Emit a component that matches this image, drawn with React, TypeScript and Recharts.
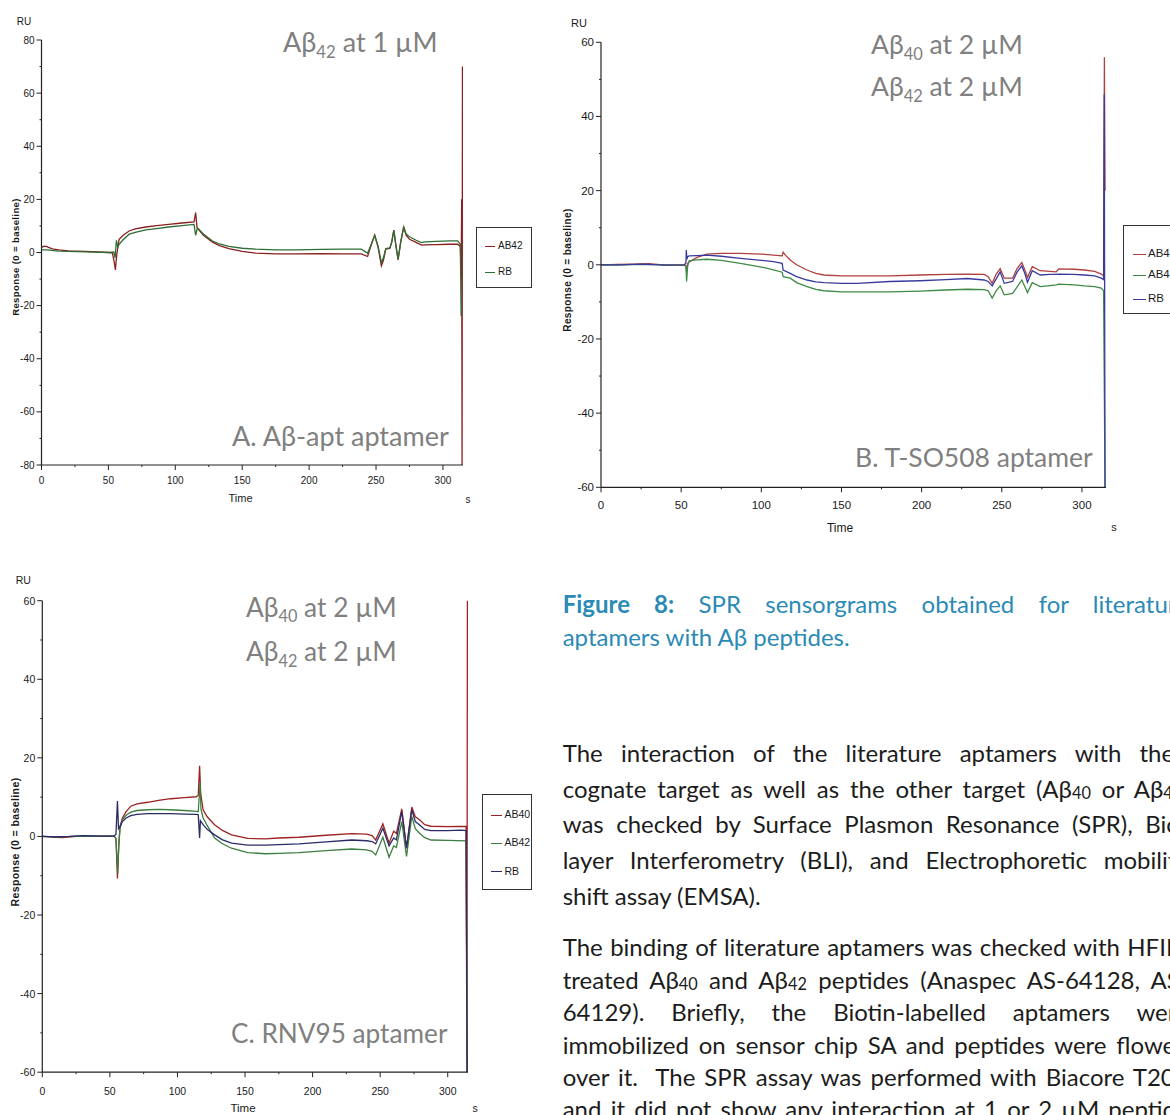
import { Legend, Line, LineChart, XAxis, YAxis } from "recharts";

type Pt = [number, number];

// time ticks (major every 50 s, minor every 25 s)
const TIME_TICKS = [0, 25, 50, 75, 100, 125, 150, 175, 200, 225, 250, 275, 300];
const A_Y_TICKS = [-80, -70, -60, -50, -40, -30, -20, -10, 0, 10, 20, 30, 40, 50, 60, 70, 80];
const BC_Y_TICKS = [-60, -50, -40, -30, -20, -10, 0, 10, 20, 30, 40, 50, 60];

// A. Aβ-apt aptamer, [time s, RU]
const A_AB42: Pt[] = [
  [0, 1.9], [2, 2.4], [4, 2.2], [8, 1.4], [13, 1], [20, 0.6], [33, 0.4], [42, 0.2], [50, 0], [53, -0.2],
  [54.5, -4], [55.2, -6.6], [56.2, -1], [58, 5], [61, 6.5], [65.5, 8.1], [70, 8.9], [78, 9.6], [86, 10.1],
  [95, 10.6], [105, 11.1], [114, 11.5], [115.2, 15], [116.2, 9.5], [117.6, 8.5], [121, 6.5], [127.5, 4],
  [133, 2.6], [140, 1.5], [150, 0.4], [160, -0.25], [175, -0.5], [190, -0.5], [210, -0.4], [225, -0.5],
  [239, -0.5], [243.7, -1.5], [246.5, 3], [249, 6.5], [251.5, 2], [254, -5], [255.5, -3], [257.3, 1.25],
  [260.3, 1.5], [261.8, 4], [263.3, 8.4], [265, 2], [266.5, -2.75], [268.5, 4], [270.7, 9.6], [272.5, 6.5],
  [275, 5], [280, 3.8], [284, 2.75], [286.4, 2.9], [295, 3], [305, 3.1], [311, 3.1], [313, 2.3],
  [313.6, -10], [314, 20], [314.3, -80], [314.6, 70],
];
const A_RB: Pt[] = [
  [0, 1], [4, 1], [13, 0.5], [33, 0.25], [50, 0], [54, 0.2], [55, -2], [56, 4.6], [57, 2], [58, 3.1],
  [61, 4.8], [65.5, 6.9], [70, 7.6], [78, 8.5], [86, 9], [95, 9.6], [105, 10.1], [114, 10.6], [115.2, 6.5],
  [116.5, 9.2], [117.6, 8.8], [121, 7], [127.5, 4.4], [133, 3.2], [140, 2.3], [150, 1.6], [160, 1.25],
  [175, 1], [190, 1], [210, 1.2], [225, 1.25], [239, 1.25], [243.7, -0.25], [246.5, 3.2], [249, 6.5],
  [251.5, 2.5], [254, -3.75], [255.5, -2], [257.3, 1.5], [260.3, 1.75], [261.8, 4], [263.3, 8.4], [265, 2.2],
  [266.5, -2.5], [268.5, 4.2], [270.7, 9.6], [272.5, 7], [275, 5.9], [280, 4.6], [284, 3.75], [286.4, 4],
  [295, 4.2], [305, 4.4], [311, 4.4], [313, 3.1], [313.6, -24],
];

// B. T-SO508 aptamer
const B_AB40: Pt[] = [
  [0, 0], [10, 0.1], [20, 0.2], [30, 0.3], [40, -0.1], [52, 0], [53, -0.3], [53.4, -2], [54, 0.3], [55, 0.8],
  [60, 2], [66, 2.9], [75, 3.1], [87, 3.1], [100, 2.9], [107.6, 2.6], [113, 2.4], [113.6, 3.4], [115, 2.6],
  [118, 1.3], [122, 0], [128.5, -1.4], [134, -2.3], [139, -2.75], [150, -3], [160, -3], [180, -3],
  [199, -2.75], [215, -2.6], [228.5, -2.5], [239, -2.6], [241.5, -3.2], [244, -5], [246.5, -2.5], [249, -1],
  [251.5, -3.6], [256.7, -3.6], [259.5, -1], [262.5, 0.6], [264.5, -1.5], [266, -3.4], [269, -0.5],
  [274, -1.6], [280, -1.8], [284, -1.9], [285.5, -1.1], [295, -1.2], [301.5, -1.4], [308, -1.8], [312, -2.5],
  [313.5, -3], [314, 56], [314.4, 20],
];
const B_AB42: Pt[] = [
  [0, 0], [10, -0.1], [25, 0.1], [40, 0], [52, 0], [53, -0.5], [53.4, -4.5], [54, -0.5], [55, 1.1],
  [60, 1.35], [66, 1.5], [75, 1.2], [87, 0.4], [100, -0.6], [107.6, -1.4], [113, -2], [113.6, -3.2],
  [118, -3.6], [122, -4.8], [128.5, -5.9], [134, -6.6], [139, -7], [150, -7.3], [160, -7.3], [180, -7.3],
  [199, -7.1], [215, -6.8], [228.5, -6.6], [239, -6.7], [241.5, -7], [244, -9], [246.5, -7], [249, -5.7],
  [251.5, -8.1], [256.7, -7.7], [259.5, -6], [262.5, -4.1], [264.5, -6], [266, -7.5], [269, -4.8],
  [274, -5.9], [280, -5.6], [284, -5.4], [285.5, -5.2], [295, -5.4], [301.5, -5.7], [308, -5.9],
  [312, -6.3], [313.5, -7], [314.4, -60],
];
const B_RB: Pt[] = [
  [0, 0], [10, 0], [25, 0.2], [40, -0.1], [52, 0], [53, 0.5], [53.2, 4], [53.6, 1.5], [54, 2.2], [55, 2.4],
  [60, 2.5], [66, 2.6], [75, 2.3], [87, 1.75], [100, 1.2], [107.6, 0.85], [113, 0.4], [113.6, -1.4],
  [118, -2.3], [122, -3.2], [128.5, -4.1], [134, -4.6], [139, -4.8], [150, -5], [160, -5], [180, -4.5],
  [199, -4.3], [215, -4], [228.5, -3.7], [239, -4.1], [241.5, -4.5], [244, -5.7], [246.5, -3.8], [249, -1.9],
  [251.5, -5], [256.7, -4.5], [259.5, -2], [262.5, -0.3], [264.5, -2.5], [266, -4.7], [269, -1.6],
  [274, -2.75], [280, -2.6], [284, -2.6], [285.5, -2.5], [295, -2.6], [301.5, -2.75], [308, -3],
  [312, -3.6], [313.5, -4], [313.9, 46], [314.4, -60],
];

// C. RNV95 aptamer
const C_AB40: Pt[] = [
  [0, 0], [10, -0.2], [15, -0.3], [25, 0], [35, 0.1], [45, 0.1], [53, 0.1], [54.5, -0.5], [55.6, -10.7],
  [56.5, -3], [57.5, 2.5], [59.3, 4.7], [62, 6.3], [65.5, 7.7], [70, 8.3], [78, 8.7], [86, 9.2], [95, 9.6],
  [105, 9.9], [114, 10.1], [115.4, 10.5], [116.4, 18], [117.2, 11], [119, 6.8], [122, 5], [127.5, 3],
  [133, 1.6], [140, 0.4], [152, -0.5], [165, -0.6], [175, -0.4], [190, -0.2], [210, 0.3], [229, 0.7],
  [240, 0.6], [244, 0.2], [246.7, -0.9], [252, 3.2], [256.6, -1.7], [260, 1.3], [262, 0.8], [266, 7],
  [269.5, -3], [273.4, 7.5], [276, 5], [279, 4.3], [283, 3], [287.6, 2.6], [300, 2.5], [313.6, 2.6],
  [314.2, -60], [314.6, 75],
];
const C_AB42: Pt[] = [
  [0, 0], [10, -0.1], [25, 0], [45, 0], [53, 0.1], [54.5, -0.5], [55.8, -9.4], [56.6, -2], [57.5, 2],
  [59.3, 4.3], [62, 5.4], [65.5, 6.2], [70, 6.6], [78, 6.8], [86, 6.9], [95, 6.8], [105, 6.6], [114, 6.4],
  [115.4, 6.3], [116.8, 13.7], [117.4, 7], [119, 4.7], [122, 2.8], [127.5, -0.4], [133, -1.8], [140, -3],
  [152, -4.1], [165, -4.4], [175, -4.3], [190, -4.1], [210, -3.6], [229, -3.2], [240, -3.4], [244, -3.8],
  [246.7, -4.7], [252, -0.2], [256.6, -5.3], [260, -2.4], [262, -2.8], [266, 3.8], [269.5, -5.1],
  [273.4, 5.1], [276, 2], [279, 0.9], [283, -0.3], [287.6, -0.9], [300, -1], [313.6, -1.1], [314.4, -60],
];
const C_RB: Pt[] = [
  [0, 0], [10, -0.1], [20, 0], [30, 0.2], [45, 0.1], [53, 0.1], [54.5, 0.5], [55.6, 9], [56.4, 2],
  [57.5, 2.5], [59.3, 3.8], [62, 4.7], [65.5, 5.3], [70, 5.6], [78, 5.8], [86, 5.8], [95, 5.8], [105, 5.7],
  [114, 5.6], [115.4, 5.5], [116.4, -0.4], [117, 4], [119, 3], [122, 1.8], [127.5, 0.4], [133, -0.8],
  [140, -1.7], [152, -2.2], [165, -2.2], [175, -2.1], [190, -1.9], [210, -1.4], [229, -0.9], [240, -1.1],
  [244, -1.3], [246.7, -1.9], [252, 2.1], [256.6, -2.4], [260, -0.4], [262, -0.9], [266, 6.4],
  [269.5, -3], [273.4, 6.8], [276, 3.8], [279, 3], [283, 1.8], [287.6, 1.5], [300, 1.5], [310, 1.6],
  [313.6, 1.5], [314.4, -60],
];

const AXIS = "#222";
const INK = "#1a1a1a";
const GREY = "#808080";
const NARROW = "'Liberation Sans Narrow', 'Liberation Sans', Arial, sans-serif";
const SANS = "'Liberation Sans', Arial, sans-serif";
const BODY = "Lato, 'Open Sans', sans-serif";

type Series = { name: string; color: string; data: Pt[] };

type LegendCfg = { left: number; top: number; width: number; height: number; rows: number[]; line: [number, number]; text: number };

type PanelCfg = {
  left: number;
  top: number;
  width: number;
  height: number;
  plot: { left: number; right: number; top: number; bottom: number };
  yDomain: [number, number];
  yTicks: number[];
  font: number;
  xGap: number;
  series: Series[];
  legend: LegendCfg;
};

function XTick(props: any) {
  const { x, y, payload, font, gap } = props;
  const v = payload.value as number;
  const major = v % 50 === 0;
  return (
    <g>
      <line x1={x} x2={x} y1={y} y2={y + (major ? 5 : 2)} stroke={AXIS} strokeWidth={1} />
      {major && (
        <text x={x} y={y + gap} textAnchor="middle" dominantBaseline="central" fontSize={font} fill={INK} fontFamily={NARROW}>
          {v}
        </text>
      )}
    </g>
  );
}

function YTick(props: any) {
  const { x, y, payload, font } = props;
  const v = payload.value as number;
  const major = v % 20 === 0;
  return (
    <g>
      <line x1={x - (major ? 5 : 2)} x2={x} y1={y} y2={y} stroke={AXIS} strokeWidth={1} />
      {major && (
        <text x={x - 7} y={y} textAnchor="end" dominantBaseline="central" fontSize={font} fill={INK} fontFamily={NARROW}>
          {v}
        </text>
      )}
    </g>
  );
}

function LegendBox({ payload, cfg, font, series }: { payload?: any[]; cfg: LegendCfg; font: number; series: Series[] }) {
  // keep the order and colours of the series list
  const items = series.map((s) => {
    const hit = (payload ?? []).find((p) => p.value === s.name);
    return { name: s.name, color: hit?.color ?? s.color };
  });
  return (
    <div
      style={{
        position: "relative",
        width: cfg.width,
        height: cfg.height,
        boxSizing: "border-box",
        border: "1px solid #333",
        background: "#fff",
      }}
    >
      {items.map((p, i) => (
        <div key={p.name} style={{ position: "absolute", left: 0, top: cfg.rows[i], width: "100%", height: 0 }}>
          <div
            style={{
              position: "absolute",
              left: cfg.line[0],
              width: cfg.line[1] - cfg.line[0],
              top: 0,
              borderTop: `1.3px solid ${p.color}`,
            }}
          />
          <div
            style={{
              position: "absolute",
              left: cfg.text,
              top: -font * 0.6,
              fontSize: font,
              lineHeight: `${font * 1.2}px`,
              fontFamily: NARROW,
              color: INK,
              whiteSpace: "nowrap",
            }}
          >
            {p.name}
          </div>
        </div>
      ))}
    </div>
  );
}

function Panel({ cfg }: { cfg: PanelCfg }) {
  const { plot, legend } = cfg;
  return (
    <div style={{ position: "absolute", left: cfg.left, top: cfg.top }}>
      <LineChart
        width={cfg.width}
        height={cfg.height}
        margin={{ top: plot.top, right: cfg.width - plot.right, bottom: 0, left: 0 }}
      >
        <XAxis
          dataKey="t"
          type="number"
          domain={[0, 315]}
          allowDataOverflow
          ticks={TIME_TICKS}
          interval={0}
          height={cfg.height - plot.bottom}
          tickSize={0}
          tickMargin={0}
          tickLine={false}
          axisLine={{ stroke: AXIS, strokeWidth: 1.2 }}
          tick={(p: any) => <XTick {...p} font={cfg.font} gap={cfg.xGap} />}
        />
        <YAxis
          type="number"
          domain={cfg.yDomain}
          allowDataOverflow
          ticks={cfg.yTicks}
          interval={0}
          width={plot.left}
          tickSize={0}
          tickMargin={0}
          tickLine={false}
          axisLine={{ stroke: AXIS, strokeWidth: 1.2 }}
          tick={(p: any) => <YTick {...p} font={cfg.font} />}
        />
        {cfg.series.map((s) => (
          <Line
            key={s.name}
            name={s.name}
            data={s.data.map(([t, v]) => ({ t, v }))}
            dataKey="v"
            type="linear"
            stroke={s.color}
            strokeWidth={1.3}
            dot={false}
            activeDot={false}
            isAnimationActive={false}
          />
        ))}
        <Legend
          layout="vertical"
          align="center"
          verticalAlign="middle"
          wrapperStyle={{ left: legend.left, top: legend.top, width: legend.width, height: legend.height }}
          content={(p: any) => <LegendBox payload={p.payload} cfg={legend} font={cfg.font} series={cfg.series} />}
        />
      </LineChart>
    </div>
  );
}

const PANEL_A: PanelCfg = {
  left: 0,
  top: 0,
  width: 540,
  height: 520,
  plot: { left: 41.5, right: 463, top: 40, bottom: 465 },
  yDomain: [-80, 80],
  yTicks: A_Y_TICKS,
  font: 10,
  xGap: 15,
  series: [
    { name: "AB42", color: "#8a1f1f", data: A_AB42 },
    { name: "RB", color: "#2f6e34", data: A_RB },
  ],
  legend: { left: 476, top: 226.5, width: 56, height: 61, rows: [18, 44], line: [8, 18], text: 21 },
};

const PANEL_B: PanelCfg = {
  left: 540,
  top: 0,
  width: 630,
  height: 545,
  plot: { left: 61, right: 566, top: 42.3, bottom: 487.3 },
  yDomain: [-60, 60],
  yTicks: BC_Y_TICKS,
  font: 11.5,
  xGap: 17.7,
  series: [
    { name: "AB40", color: "#b0403e", data: B_AB40 },
    { name: "AB42", color: "#3f8a45", data: B_AB42 },
    { name: "RB", color: "#3a3a9e", data: B_RB },
  ],
  legend: { left: 583, top: 225, width: 70, height: 89, rows: [27.5, 49, 73.3], line: [9, 22], text: 24 },
};

const PANEL_C: PanelCfg = {
  left: 0,
  top: 560,
  width: 540,
  height: 555,
  plot: { left: 42.3, right: 468, top: 40.7, bottom: 512.2 },
  yDomain: [-60, 60],
  yTicks: BC_Y_TICKS,
  font: 10.5,
  xGap: 19,
  series: [
    { name: "AB40", color: "#9e2222", data: C_AB40 },
    { name: "AB42", color: "#3c7e40", data: C_AB42 },
    { name: "RB", color: "#2a2a6a", data: C_RB },
  ],
  legend: { left: 482, top: 233.5, width: 50, height: 96, rows: [20, 48, 76.5], line: [8, 19], text: 21.5 },
};

function Conc({ x, y, size, sub, rest }: { x: number; y: number; size: number; sub: string; rest: string }) {
  return (
    <text x={x} y={y} fontSize={size} fill={GREY} fontFamily={BODY}>
      Aβ
      <tspan fontSize={size * 0.62} dy={size * 0.22}>
        {sub}
      </tspan>
      <tspan dy={-size * 0.22}>{rest}</tspan>
    </text>
  );
}

function AxisTexts({ ru, yLab, time, s, font, labSize }: any) {
  return (
    <g fontFamily={NARROW} fill={INK} fontSize={font}>
      <text x={ru[0]} y={ru[1]} textAnchor="middle" dominantBaseline="central">
        RU
      </text>
      <text
        x={yLab[0]}
        y={yLab[1]}
        transform={`rotate(-90 ${yLab[0]} ${yLab[1]})`}
        textAnchor="middle"
        dominantBaseline="central"
        fontFamily={SANS}
        fontWeight="bold"
        fontSize={labSize}
        letterSpacing={0.4}
      >
        Response (0 = baseline)
      </text>
      <text x={time[0]} y={time[1]} textAnchor="middle" dominantBaseline="central" fontSize={font + 1}>
        Time
      </text>
      <text x={s[0]} y={s[1]} textAnchor="middle" dominantBaseline="central">
        s
      </text>
    </g>
  );
}

const BODY_F = 24;
const CAP_F = 24;
const TEXT_LEFT = 562.7;
const TEXT_W = 626;

function TextLine({ base, size, justify, color, children }: any) {
  return (
    <div
      style={{
        position: "absolute",
        left: TEXT_LEFT,
        width: TEXT_W,
        top: base - 0.987 * size,
        fontSize: size,
        lineHeight: `${size * 1.2}px`,
        fontFamily: BODY,
        color,
        whiteSpace: "nowrap",
        textAlign: justify ? "justify" : "left",
        textAlignLast: justify ? "justify" : "left",
      }}
    >
      {children}
    </div>
  );
}

const Sub = ({ children }: any) => <span style={{ fontSize: "0.68em", verticalAlign: "-0.08em" }}>{children}</span>;

export default function App() {
  const cap = "#2b8ab6";
  const body = "#1c1c1c";
  return (
    <div
      style={{
        position: "absolute",
        left: 0,
        top: 0,
        width: 1170,
        height: 1115,
        overflow: "hidden",
        background: "#fff",
      }}
    >
      <Panel cfg={PANEL_A} />
      <Panel cfg={PANEL_B} />
      <Panel cfg={PANEL_C} />

      <svg width={1170} height={1115} style={{ position: "absolute", left: 0, top: 0, pointerEvents: "none" }}>
        <AxisTexts ru={[24, 21.6]} yLab={[15, 257]} time={[240.6, 497.5]} s={[468, 499]} font={10} labSize={9.5} />
        <AxisTexts ru={[579, 22.7]} yLab={[567, 270]} time={[840, 528]} s={[1114, 527]} font={11} labSize={10} />
        <AxisTexts ru={[23.3, 579.5]} yLab={[15, 842]} time={[243, 1108]} s={[475, 1108]} font={10.5} labSize={10.5} />

        <Conc x={283} y={52.4} size={27} sub="42" rest=" at 1 µM" />
        <text x={232} y={446} fontSize={27} fill={GREY} fontFamily={BODY}>
          A. Aβ-apt aptamer
        </text>

        <Conc x={871} y={54} size={26.5} sub="40" rest=" at 2 µM" />
        <Conc x={871} y={96.3} size={26.5} sub="42" rest=" at 2 µM" />
        <text x={855} y={466.5} fontSize={26.5} fill={GREY} fontFamily={BODY}>
          B. T-SO508 aptamer
        </text>

        <Conc x={246} y={616.6} size={26.3} sub="40" rest=" at 2 µM" />
        <Conc x={246} y={660.9} size={26.3} sub="42" rest=" at 2 µM" />
        <text x={231} y={1043.2} fontSize={26.2} fill={GREY} fontFamily={BODY}>
          C. RNV95 aptamer
        </text>
      </svg>

      <TextLine base={614} size={CAP_F} justify color={cap}>
        <b>Figure 8:</b> SPR sensorgrams obtained for literature
      </TextLine>
      <TextLine base={646.5} size={CAP_F} color={cap}>
        aptamers with Aβ peptides.
      </TextLine>

      <TextLine base={762.5} size={BODY_F} justify color={body}>
        The interaction of the literature aptamers with their
      </TextLine>
      <TextLine base={798.4} size={BODY_F} justify color={body}>
        cognate target as well as the other target (Aβ<Sub>40</Sub> or Aβ<Sub>42</Sub>)
      </TextLine>
      <TextLine base={834} size={BODY_F} justify color={body}>
        was checked by Surface Plasmon Resonance (SPR), Bio-
      </TextLine>
      <TextLine base={870} size={BODY_F} justify color={body}>
        layer Interferometry (BLI), and Electrophoretic mobility
      </TextLine>
      <TextLine base={905.8} size={BODY_F} color={body}>
        shift assay (EMSA).
      </TextLine>

      <TextLine base={957} size={BODY_F} justify color={body}>
        The binding of literature aptamers was checked with HFIP-
      </TextLine>
      <TextLine base={989.4} size={BODY_F} justify color={body}>
        treated Aβ<Sub>40</Sub> and Aβ<Sub>42</Sub> peptides (Anaspec AS-64128, AS-
      </TextLine>
      <TextLine base={1021.8} size={BODY_F} justify color={body}>
        64129). Briefly, the Biotin-labelled aptamers were
      </TextLine>
      <TextLine base={1054.2} size={BODY_F} justify color={body}>
        immobilized on sensor chip SA and peptides were flowed
      </TextLine>
      <TextLine base={1086.7} size={BODY_F} justify color={body}>
        over it.&nbsp; The SPR assay was performed with Biacore T200
      </TextLine>
      <TextLine base={1119} size={BODY_F} justify color={body}>
        and it did not show any interaction at 1 or 2 µM peptide
      </TextLine>
    </div>
  );
}
